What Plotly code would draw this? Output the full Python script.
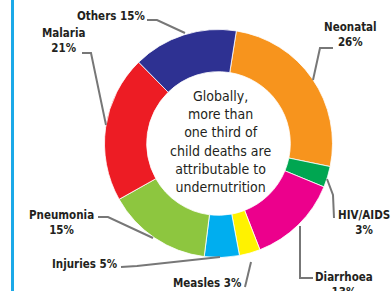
import plotly.graph_objects as go

W, H = 391, 291

causes = ["Neonatal", "HIV/AIDS", "Diarrhoea", "Measles", "Injuries", "Pneumonia", "Malaria", "Others"]
shares = [26, 3, 13, 3, 5, 15, 21, 15]
colors = ["#F7941D", "#00A651", "#EC008C", "#FFF200", "#00AEEF", "#8DC63F", "#ED1C24", "#2E3192"]
center_text = ["Globally,", "more than", "one third of", "child deaths are", "attributable to", "undernutrition"]

FONT = "DejaVu Sans Condensed, Liberation Sans Narrow, sans-serif"

def px(x, y):
    return x / W, 1 - y / H

cx, cy, R = 218.5, 143.5, 114
dx0, dy0 = px(cx - R, cy + R)
dx1, dy1 = px(cx + R, cy - R)

fig = go.Figure(go.Pie(
    labels=causes, values=shares, sort=False, direction="clockwise",
    rotation=9, hole=0.63, textinfo="none", hoverinfo="label+percent",
    marker=dict(colors=colors, line=dict(color="white", width=0.8)),
    domain=dict(x=[dx0, dx1], y=[dy0, dy1]), showlegend=False,
))

# label layout: (text, x, y) in pixels, with leader polyline
labels = [
    ("Others " + f"{shares[7]}%", 111, 16, [(147, 20), (157, 20), (185, 33)]),
    ("Malaria<br>" + f"{shares[6]}%", 63, 41, [(82, 53), (91, 53), (106, 125)]),
    ("Neonatal<br>" + f"{shares[0]}%", 350, 34, [(333, 48), (320, 48), (313, 80)]),
    ("HIV/AIDS<br>" + f"{shares[1]}%", 364, 222, [(327, 179), (333, 195), (334, 218)]),
    ("Diarrhoea<br>" + f"{shares[2]}%", 344, 284, [(300, 226), (300, 278), (313, 278)]),
    ("Measles " + f"{shares[3]}%", 207, 283, [(251, 262), (245, 287)]),
    ("Injuries " + f"{shares[4]}%", 85, 264, [(121, 267), (137, 266), (220, 257)]),
    ("Pneumonia<br>" + f"{shares[5]}%", 61, 222, [(98, 217), (108, 217), (153, 238)]),
]

shapes = []
annotations = []
for txt, x, y, pts in labels:
    ax, ay = px(x, y)
    annotations.append(dict(
        text="<b>" + txt + "</b>", x=ax, y=ay, xref="paper", yref="paper",
        showarrow=False, xanchor="center", yanchor="middle",
        font=dict(family=FONT, size=11.5, color="#231F20"), align="center",
    ))
    path = ""
    for i, (lx, ly) in enumerate(pts):
        qx, qy = px(lx, ly)
        path += ("M" if i == 0 else "L") + f"{qx},{qy} "
    shapes.append(dict(type="path", path=path.strip(), xref="paper", yref="paper",
                       line=dict(color="#777777", width=2)))

tx, ty = px(221, 141)
annotations.append(dict(
    text="<br>".join(center_text), x=tx, y=ty, xref="paper", yref="paper",
    showarrow=False, xanchor="center", yanchor="middle", align="center",
    font=dict(family=FONT, size=14, color="#231F20"),
))

# left blue border
bx0, _ = px(11, 0)
bx1, _ = px(14, 0)
shapes.append(dict(type="rect", x0=bx0, x1=bx1, y0=0, y1=1, xref="paper", yref="paper",
                   fillcolor="#1BA9E8", line=dict(width=0)))

fig.update_layout(
    width=W, height=H, margin=dict(l=0, r=0, t=0, b=0),
    paper_bgcolor="white", plot_bgcolor="white",
    shapes=shapes, annotations=annotations,
)

fig.write_html("out.html", config={"displayModeBar": False},
               post_script="document.body.style.margin='0px';document.body.style.overflow='hidden';")
